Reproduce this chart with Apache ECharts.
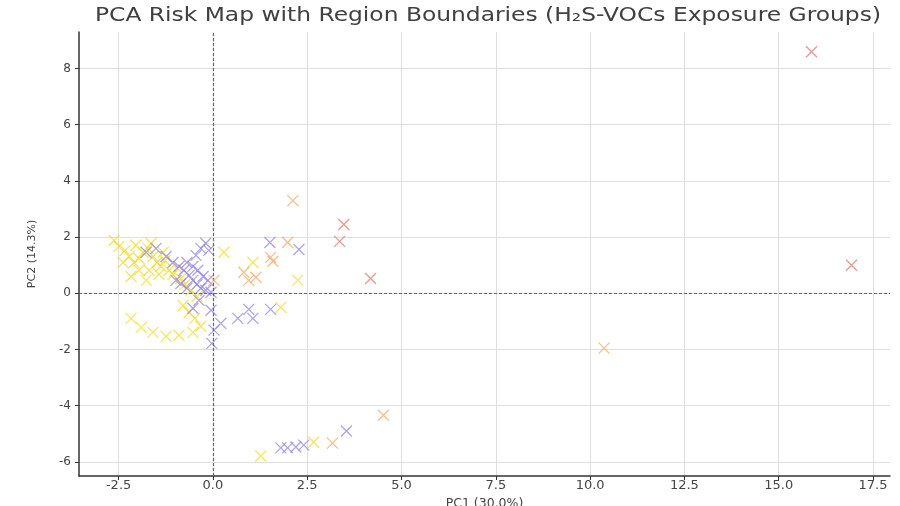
<!DOCTYPE html>
<html>
<head>
<meta charset="utf-8">
<script src="https://cdn.jsdelivr.net/npm/echarts@6/dist/echarts.min.js"></script>
<style>
  html, body { margin: 0; padding: 0; background: #fff; }
  #chart { width: 900px; height: 506px; }
</style>
</head>
<body>
<div id="chart"></div>
<script>
// PCA scores (PC1, PC2) for each exposure group
const groupNames = ['Low', 'Moderate', 'Elevated', 'High'];
const groupColors = ['#f0dc1e', '#8f7fe3', '#f4a45e', '#e5705f'];

const lowGroup = [
  [-2.62, 1.88], [-2.49, 1.67], [-2.33, 1.53], [-2.22, 1.31], [-2.09, 1.10],
  [-1.96, 1.24], [-1.85, 1.46], [-1.72, 1.60], [-1.59, 1.31], [-1.48, 1.10],
  [-1.38, 0.96], [-1.27, 1.17], [-1.16, 0.82], [-1.06, 0.68], [-0.95, 0.89],
  [-0.85, 0.53], [-0.74, 0.32], [-1.43, 0.68], [-1.69, 0.82], [-1.96, 0.82],
  [-2.17, 0.60], [-1.77, 0.46], [-2.38, 1.10], [-2.04, 1.71], [-1.64, 1.78],
  [-1.32, 1.46], [-0.58, 0.11], [-0.42, -0.11], [-0.79, -0.43], [-0.63, -0.68],
  [-0.48, -0.89], [-2.17, -0.89], [-1.90, -1.21], [-1.59, -1.39], [-1.24, -1.53],
  [-0.90, -1.49], [-0.53, -1.39], [-0.32, -1.17], [2.25, 0.46], [1.06, 1.10],
  [1.27, -5.79], [2.67, -5.30], [0.29, 1.46], [1.80, -0.50]
];

const moderateGroup = [
  [-1.06, 1.10], [-0.90, 0.96], [-0.77, 0.82], [-0.63, 0.64], [-0.53, 0.46],
  [-0.42, 0.32], [-0.32, 0.18], [-0.19, 0.11], [-0.05, 0.04], [-0.69, 1.10],
  [-0.53, 0.96], [-0.40, 0.82], [-0.26, 0.60], [-0.13, 0.46], [-0.45, 1.35],
  [-0.32, 1.60], [-0.19, 1.78], [-0.11, 1.53], [-0.85, 0.35], [-0.69, 0.18],
  [-0.98, 0.46], [-0.37, -0.25], [-0.53, -0.53], [-0.05, -0.60], [0.03, -1.31],
  [-0.03, -1.78], [-1.77, 1.46], [-1.51, 1.60], [-1.24, 1.31], [1.51, 1.81],
  [2.28, 1.56], [0.95, -0.57], [1.53, -0.57], [1.06, -0.89], [0.66, -0.89],
  [0.21, -1.07], [3.54, -4.90], [2.41, -5.40], [2.20, -5.47], [1.98, -5.50],
  [1.80, -5.50]
];

const elevatedGroup = [
  [2.12, 3.30], [1.98, 1.81], [1.53, 1.28], [1.59, 1.14], [0.82, 0.75],
  [0.95, 0.46], [1.14, 0.57], [4.52, -4.34], [3.17, -5.33], [10.37, -1.95],
  [0.03, 0.46]
];

const highGroup = [
  [3.47, 2.45], [3.36, 1.85], [4.18, 0.53], [15.87, 8.60], [16.93, 1.00]
];

const groups = [lowGroup, moderateGroup, elevatedGroup, highGroup];

// Axis extents and tick positions
const xRange = [-3.55, 17.95];
const yRange = [-6.5, 9.3];
const xTicks = [-2.5, 0, 2.5, 5, 7.5, 10, 12.5, 15, 17.5];
const yTicks = [-6, -4, -2, 0, 2, 4, 6, 8];

const titleText = 'PCA Risk Map with Region Boundaries (H\u2082S-VOCs Exposure Groups)';
const xName = 'PC1 (30.0%)';
const yName = 'PC2 (14.3%)';

const crossSymbol = 'path://M0,0L10,10M10,0L0,10';
const fontFamily = 'DejaVu Sans';

const chart = echarts.init(document.getElementById('chart'), null, { renderer: 'canvas' });

const series = groups.map((pts, i) => ({
  name: groupNames[i],
  type: 'scatter',
  data: pts,
  symbol: crossSymbol,
  symbolSize: 11,
  itemStyle: {
    color: 'rgba(0,0,0,0)',
    borderColor: groupColors[i],
    borderWidth: 1.3,
    opacity: 0.72
  },
  z: 3 + i
}));

// Reference lines through the origin
series.push({
  type: 'scatter',
  data: [],
  silent: true,
  markLine: {
    silent: true,
    symbol: ['none', 'none'],
    label: { show: false },
    lineStyle: { color: '#666', type: [3, 2], width: 1.2 },
    data: [{ xAxis: 0 }, { yAxis: 0 }]
  },
  z: 2
});

chart.setOption({
  animation: false,
  backgroundColor: '#fff',
  // Wide-set title drawn as a horizontally stretched text element
  graphic: [{
    type: 'text',
    x: 488,
    y: 16,
    scaleX: 1.23,
    style: {
      text: titleText,
      font: '19px "DejaVu Sans"',
      fill: '#404040',
      textAlign: 'center',
      textVerticalAlign: 'middle'
    }
  }],
  grid: { left: 79, right: 10, top: 32, bottom: 30, containLabel: false, outerBoundsMode: 'none' },
  xAxis: {
    type: 'value',
    min: xRange[0],
    max: xRange[1],
    name: xName,
    nameLocation: 'middle',
    nameGap: 16,
    nameTextStyle: { fontFamily, fontSize: 12.5, color: '#444' },
    axisLine: { show: true, onZero: false, lineStyle: { color: '#333', width: 1.5 } },
    axisTick: { show: true, length: 4, customValues: xTicks, lineStyle: { color: '#333' } },
    axisLabel: { customValues: xTicks, fontFamily, fontSize: 13, color: '#444', margin: 3,
      formatter: v => v.toFixed(1) },
    splitLine: { show: true, lineStyle: { color: '#dedede', width: 1 } }
  },
  yAxis: {
    type: 'value',
    min: yRange[0],
    max: yRange[1],
    name: yName,
    nameLocation: 'middle',
    nameGap: 41,
    nameTextStyle: { fontFamily, fontSize: 11, color: '#444' },
    axisLine: { show: true, onZero: false, lineStyle: { color: '#333', width: 1.5 } },
    axisTick: { show: true, length: 4, customValues: yTicks, lineStyle: { color: '#333' } },
    axisLabel: { customValues: yTicks, fontFamily, fontSize: 12, color: '#444', margin: 8,
      formatter: v => String(v) },
    splitLine: { show: true, lineStyle: { color: '#dedede', width: 1 } }
  },
  series
});
</script>
</body>
</html>
